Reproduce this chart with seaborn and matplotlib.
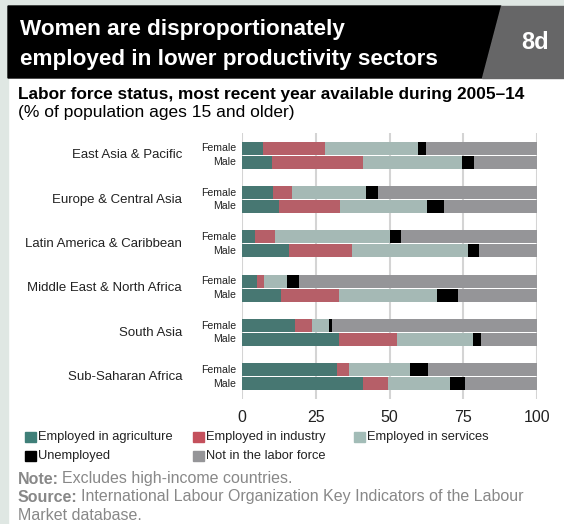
import matplotlib
matplotlib.use("Agg")
import matplotlib.pyplot as plt
import matplotlib.patches as mpatches
import matplotlib.transforms as mtransforms
import seaborn as sns
import pandas as pd

# Regions and sexes (top to bottom)
regions = ["East Asia & Pacific", "Europe & Central Asia", "Latin America & Caribbean",
           "Middle East & North Africa", "South Asia", "Sub-Saharan Africa"]
sexes = ["Female", "Male"]

# Shares of population ages 15+ (%), Female then Male for each region
agriculture = [7.0, 10.1, 10.6, 12.7, 4.3, 16.0, 5.2, 13.1, 18.1, 32.8, 32.3, 40.9]
industry = [21.0, 30.8, 6.2, 20.4, 6.8, 21.2, 2.1, 19.7, 5.5, 19.6, 3.9, 8.5]
services = [31.5, 33.6, 25.1, 29.5, 39.0, 39.3, 7.8, 33.2, 5.8, 25.8, 20.6, 21.0]
unemployed = [2.8, 4.0, 4.1, 5.8, 3.7, 3.7, 4.1, 7.1, 1.0, 2.7, 6.1, 5.1]
not_in_lf = [37.7, 21.5, 54.0, 31.6, 46.2, 19.8, 80.8, 26.9, 69.6, 19.1, 37.1, 24.5]

categories = ["Employed in agriculture", "Employed in industry", "Employed in services",
              "Unemployed", "Not in the labor force"]
colors = ["#3f7f78", "#c4505c", "#a2bcb7", "#000000", "#959598"]
x_ticks = [0, 25, 50, 75, 100]

df = pd.DataFrame({
    "region": [r for r in regions for s in sexes],
    "sex": [s for r in regions for s in sexes],
    categories[0]: agriculture,
    categories[1]: industry,
    categories[2]: services,
    categories[3]: unemployed,
    categories[4]: not_in_lf,
})

# cumulative sums so bars can be layered from the back
cum = df[categories].cumsum(axis=1)

sns.set_style("white")
plt.rcParams["font.family"] = ["Liberation Sans", "DejaVu Sans"]

fig = plt.figure(figsize=(5.64, 5.24), dpi=100)
W, H = 564, 524
TXT = "#222222"

# background strips
fig.patches.append(mpatches.Rectangle((0, 0), 8 / W, 1, transform=fig.transFigure,
                                      color="#dfe7e3", zorder=0))
fig.patches.append(mpatches.Rectangle((0, 1 - 6 / H), 1, 6 / H, transform=fig.transFigure,
                                      color="#dfe7e3", zorder=0))
# title band
fig.patches.append(mpatches.Polygon([(8 / W, 1 - 6 / H), (501 / W, 1 - 6 / H),
                                     (482 / W, 1 - 78 / H), (8 / W, 1 - 78 / H)],
                                    closed=True, transform=fig.transFigure,
                                    color="black", zorder=1))
fig.patches.append(mpatches.Polygon([(501 / W, 1 - 6 / H), (1, 1 - 6 / H),
                                     (1, 1 - 78 / H), (482 / W, 1 - 78 / H)],
                                    closed=True, transform=fig.transFigure,
                                    color="#666667", zorder=1))

fig.text(20 / W, 1 - 30 / H, "Women are disproportionately", color="white",
         fontsize=16.2, fontweight="bold", va="center", ha="left")
fig.text(20 / W, 1 - 59 / H, "employed in lower productivity sectors", color="white",
         fontsize=16.2, fontweight="bold", va="center", ha="left")
fig.text(535 / W, 1 - 43 / H, "8d", color="white", fontsize=17,
         fontweight="bold", va="center", ha="center")

fig.text(18 / W, 1 - 95 / H, "Labor force status, most recent year available during 2005\u201314",
         color="black", fontsize=12.4, fontweight="bold", va="center", ha="left")
fig.text(18 / W, 1 - 112 / H, "(% of population ages 15 and older)",
         color="black", fontsize=12.5, va="center", ha="left")

ax = fig.add_axes([242 / W, 1 - 399 / H, 295 / W, 266 / H])

# draw from the total down to the first segment
for i in range(len(categories) - 1, -1, -1):
    sns.barplot(data=df.assign(val=cum[categories[i]]), x="val", y="region", hue="sex",
                hue_order=sexes, palette={"Female": colors[i], "Male": colors[i]},
                order=regions, orient="h", width=0.62, gap=0.05, linewidth=0,
                legend=False, ax=ax, zorder=3)

ax.set_xlim(0, 100)
ax.set_ylim(5.5, -0.5)
ax.set_xticks(x_ticks)
ax.set_xticklabels([str(t) for t in x_ticks], fontsize=11.5, color=TXT)
ax.tick_params(axis="x", length=0, pad=8)
ax.set_yticks([])
ax.set_xlabel("")
ax.set_ylabel("")
for s in ax.spines.values():
    s.set_visible(False)
ax.grid(axis="x", color="#d4d4d4", linewidth=1.5, zorder=0)
ax.set_axisbelow(True)

# region and sex labels
trans = mtransforms.blended_transform_factory(ax.transAxes, ax.transData)
for gi, region in enumerate(regions):
    ax.text(-60 / 295, gi, region, transform=trans, ha="right", va="center",
            fontsize=9.5, color=TXT)
    ax.text(-6 / 295, gi - 0.155, "Female", transform=trans, ha="right", va="center",
            fontsize=7.6, color=TXT)
    ax.text(-6 / 295, gi + 0.155, "Male", transform=trans, ha="right", va="center",
            fontsize=7.6, color=TXT)

# legend
leg_pos = [(25, 437), (193, 437), (354, 437), (25, 456), (193, 456)]
for (lx, ly), cat, col in zip(leg_pos, categories, colors):
    fig.patches.append(mpatches.Rectangle((lx / W, 1 - (ly + 5) / H), 10.5 / W, 10.5 / H,
                                          transform=fig.transFigure, color=col))
    fig.text((lx + 13) / W, 1 - ly / H, cat, fontsize=9.3, color=TXT,
             va="center", ha="left")

# note and source
NOTE = "#888888"
fig.canvas.draw()
renderer = fig.canvas.get_renderer()
note_lines = [("Note:", "Excludes high-income countries.", 479),
              ("Source:", "International Labour Organization Key Indicators of the Labour", 497)]
for head, body, ly in note_lines:
    t = fig.text(18 / W, 1 - ly / H, head, fontsize=11.5, fontweight="bold", color=NOTE,
                 va="center")
    bb = t.get_window_extent(renderer)
    fig.text((bb.x1 + 3) / W, 1 - ly / H, body, fontsize=11.5, color=NOTE, va="center")
fig.text(18 / W, 1 - 515 / H, "Market database.", fontsize=11.5, color=NOTE, va="center")

fig.savefig("out.png", dpi=100)
